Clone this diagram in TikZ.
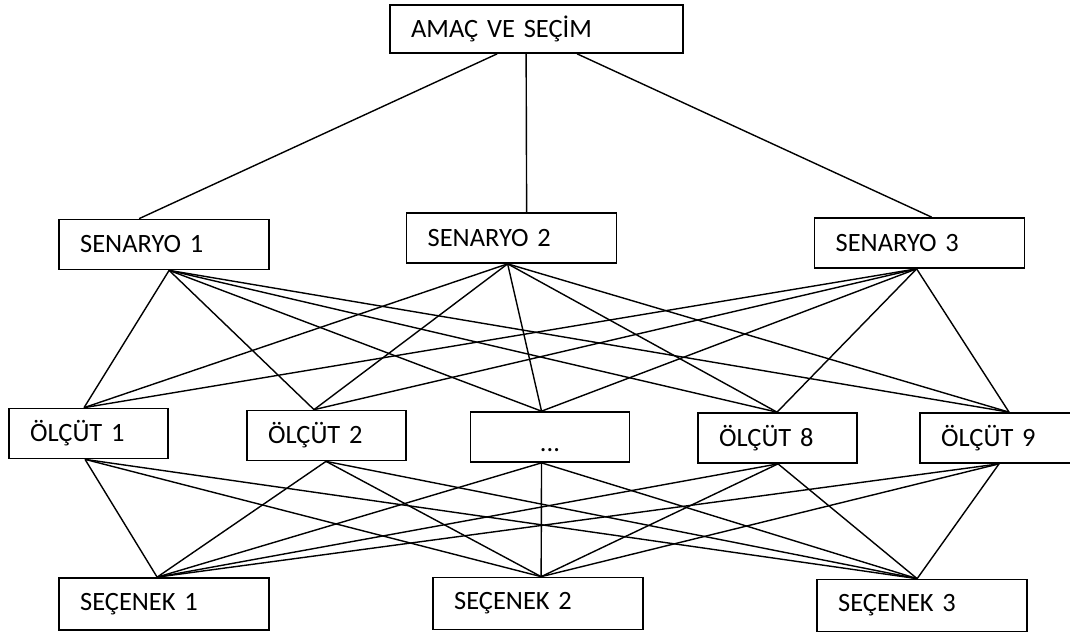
\documentclass[tikz,border=0pt]{standalone}
\usepackage{fontspec}
\setmainfont{Carlito}
\usetikzlibrary{calc}
\tikzset{
  kutu/.style={draw, line width=1.2pt, minimum height=1.25cm, inner xsep=0.53cm,
    inner ysep=0pt, align=left, text width=#1},
  hat/.style={line width=1pt}
}
\begin{document}
\begin{tikzpicture}[x=0.025cm, y=-0.025cm, font=\fontsize{18.8}{22}\selectfont]
    \useasboundingbox (0,0) rectangle (1070,631);
    % kutular
    \node[kutu=6.265cm, minimum height=1.2cm] (amac) at (536.5,29) {AMAÇ VE SEÇİM};
    \node[kutu=4.19cm] (sen1) at (164,244.5) {SENARYO 1};
    \node[kutu=4.19cm] (sen2) at (511.5,238) {SENARYO 2};
    \node[kutu=4.19cm] (sen3) at (919.5,243) {SENARYO 3};
    \node[kutu=2.92cm] (olc1) at (88.5,433.5) {ÖLÇÜT 1};
    \node[kutu=2.92cm] (olc2) at (326.5,435.5) {ÖLÇÜT 2};
    \node[kutu=2.92cm, align=center] (olcd) at (550,437) {\strut\raisebox{-0.22cm}{...}};
    \node[kutu=2.92cm] (olc8) at (777.5,438) {ÖLÇÜT 8};
    \node[kutu=2.92cm] (olc9) at (999.5,438) {ÖLÇÜT 9};
    \node[kutu=4.19cm, minimum height=1.3cm] (sec1) at (164,604) {SEÇENEK 1};
    \node[kutu=4.19cm, minimum height=1.3cm] (sec2) at (538,603.5) {SEÇENEK 2};
    \node[kutu=4.19cm, minimum height=1.3cm] (sec3) at (922,605.5) {SEÇENEK 3};
    % baglanti noktalari
    \foreach \a/\d in {a/108, b/137, c/188}
      \coordinate (amac-\a) at ($(amac.south west)+(\d,0)$);
    \foreach \n/\i/\o in {sen1/81/111, sen2/121/102, sen3/118/103,
        olc1/76/77, olc2/68/80, olcd/72/72, olc8/80/81, olc9/90/80,
        sec1/99/0, sec2/109/0, sec3/101/0}
    {\coordinate (\n-in) at ($(\n.north west)+(\i,0)$);
     \coordinate (\n-out) at ($(\n.south west)+(\o,0)$);
    }
    % cizgiler
    \foreach \a/\s in {a/sen1, b/sen2, c/sen3}
      \draw[hat] (amac-\a) -- (\s-in);
    \foreach \s in {sen1,sen2,sen3}
    {\foreach \o in {olc1,olc2,olcd,olc8,olc9}
      \draw[hat] (\s-out) -- (\o-in);
    }
    \foreach \o in {olc1,olc2,olcd,olc8,olc9}
    {\foreach \c in {sec1,sec2,sec3}
      \draw[hat] (\o-out) -- (\c-in);
    }
  \end{tikzpicture}
\end{document}
